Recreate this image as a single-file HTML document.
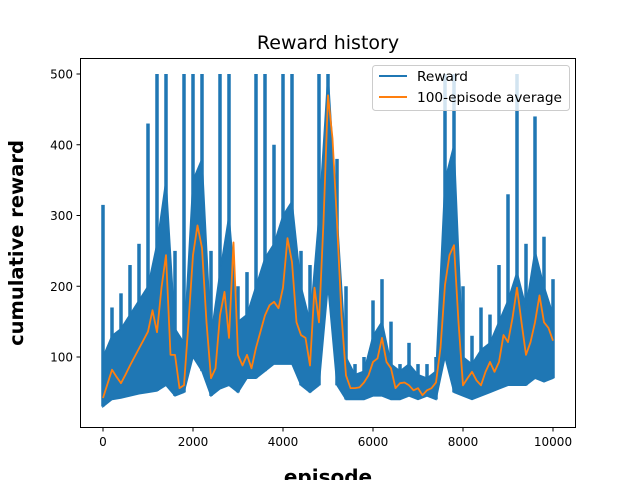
<!DOCTYPE html>
<html><head><meta charset="utf-8"><style>
body{margin:0;background:#fff;}
svg{display:block;font-family:"DejaVu Sans","Liberation Sans",sans-serif;}
</style></head><body>
<svg id="chart" width="640" height="480">
<rect x="0" y="0" width="640" height="480" fill="#fff"/>
<g id="plot"></g>
<rect x="80.5" y="58.5" width="495" height="369" fill="none" stroke="#000" stroke-width="1"/>
<g id="xt"></g><g id="yt"></g>
<text x="328" y="49" font-size="19" text-anchor="middle">Reward history</text>
<text x="328" y="484" font-size="20" font-weight="bold" text-anchor="middle">episode</text>
<text transform="translate(23,243) rotate(-90)" font-size="19.5" font-weight="bold" text-anchor="middle">cumulative reward</text>
<g>
<rect x="372.5" y="65.5" width="197" height="45" rx="3" fill="#fff" fill-opacity="0.8" stroke="#ccc"/>
<line x1="379" y1="76" x2="407" y2="76" stroke="#1f77b4" stroke-width="2"/>
<text x="417" y="81" font-size="13.7">Reward</text>
<line x1="379" y1="97" x2="407" y2="97" stroke="#ff7f0e" stroke-width="2"/>
<text x="417" y="102" font-size="13.7">100-episode average</text>
</g>
</svg>
<script>
const binEpisodes=[0,200,400,600,800,1000,1200,1400,1600,1800,2000,2200,2400,2600,2800,3000,3200,3400,3600,3800,4000,4200,4400,4600,4800,5000,5200,5400,5600,5800,6000,6200,6400,6600,6800,7000,7200,7400,7600,7800,8000,8200,8400,8600,8800,9000,9200,9400,9600,9800,10000];
const rewardMax=[315,170,190,230,260,430,500,500,250,500,500,500,250,500,500,200,220,500,500,400,500,500,250,230,500,500,380,200,90,100,180,210,150,90,120,90,90,100,500,500,200,130,170,160,230,330,500,260,440,270,210];
const rewardBodyTop=[100,130,140,160,180,200,260,350,140,120,350,380,130,220,300,150,160,200,240,260,300,320,200,150,300,500,300,100,75,80,130,150,90,80,90,75,70,80,350,400,100,90,110,120,150,180,220,170,250,200,160];
const rewardMin=[30,40,42,45,48,50,52,60,45,50,100,80,45,55,60,50,70,70,80,90,90,90,60,50,60,200,60,40,40,40,45,45,40,40,45,40,45,40,100,50,45,40,45,50,55,60,60,60,70,65,70];
const avgEpisodes=[];for(let e=0;e<=10000;e+=100)avgEpisodes.push(e);
const avgValues=[42,62,82,72,63,75,88,100,112,124,136,166,135,198,244,103,103,56,60,149,244,286,254,149,70,84,159,192,127,262,103,88,103,84,113,136,159,173,178,169,198,268,234,149,131,127,88,198,149,291,470,409,291,159,74,56,56,57,64,74,93,98,127,93,84,56,63,64,60,53,56,46,53,56,64,113,202,244,258,149,60,70,79,67,60,79,93,79,93,131,121,155,198,149,103,121,149,187,149,141,123];
const xTicks=[0,2000,4000,6000,8000,10000];
const yTicks=[100,200,300,400,500];
const NS="http://www.w3.org/2000/svg";
const X=e=>103+e*0.045, Y=v=>427.75-v*0.7075;
const plot=document.getElementById('plot');
binEpisodes.forEach((e,i)=>{
  const sp=document.createElementNS(NS,'rect');
  sp.setAttribute('x',X(e)-1.75);sp.setAttribute('width',3.5);
  sp.setAttribute('y',Y(rewardMax[i]));sp.setAttribute('height',Y(rewardMin[i])-Y(rewardMax[i]));
  sp.setAttribute('fill','#1f77b4');
  
  
  plot.appendChild(sp);
});
let pts=binEpisodes.map((e,i)=>X(e)+','+Y(rewardBodyTop[i]));
for(let i=binEpisodes.length-1;i>=0;i--)pts.push(X(binEpisodes[i])+','+Y(rewardMin[i]));
const band=document.createElementNS(NS,'polygon');
band.setAttribute('points',pts.join(' '));
band.setAttribute('fill','#1f77b4');band.setAttribute('stroke','#1f77b4');band.setAttribute('stroke-width','1.5');


plot.appendChild(band);
const avg=document.createElementNS(NS,'polyline');
avg.setAttribute('points',avgEpisodes.map((e,i)=>X(e)+','+Y(avgValues[i])).join(' '));
avg.setAttribute('fill','none');avg.setAttribute('stroke','#ff7f0e');avg.setAttribute('stroke-width','1.8');avg.setAttribute('stroke-linejoin','round');


plot.appendChild(avg);
const xt=document.getElementById('xt');
xTicks.forEach(t=>{const l=document.createElementNS(NS,'line');l.setAttribute('x1',X(t));l.setAttribute('x2',X(t));l.setAttribute('y1',427.5);l.setAttribute('y2',431.5);l.setAttribute('stroke','#000');


xt.appendChild(l);
const s=document.createElementNS(NS,'text');s.setAttribute('x',X(t));s.setAttribute('y',446);s.setAttribute('font-size','12');s.setAttribute('text-anchor','middle');s.textContent=t;


xt.appendChild(s);});
const yt=document.getElementById('yt');
yTicks.forEach(t=>{const l=document.createElementNS(NS,'line');l.setAttribute('x1',76.5);l.setAttribute('x2',80.5);l.setAttribute('y1',Y(t));l.setAttribute('y2',Y(t));l.setAttribute('stroke','#000');


yt.appendChild(l);
const s=document.createElementNS(NS,'text');s.setAttribute('x',73);s.setAttribute('y',Y(t)+4.5);s.setAttribute('font-size','12');s.setAttribute('text-anchor','end');s.textContent=t;


yt.appendChild(s);});
</script>
</body></html>
